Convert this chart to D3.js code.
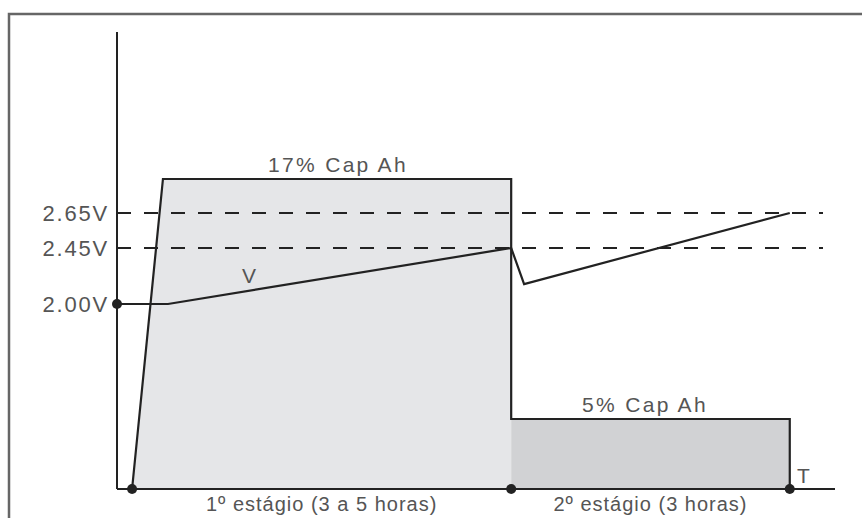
<!DOCTYPE html>
<html>
<head>
<meta charset="utf-8">
<script src="https://cdn.jsdelivr.net/npm/d3@7"></script>
<style>
  body { margin: 0; background: #fff; }
  text { font-family: "Liberation Sans", Arial, sans-serif; fill: #555; }
</style>
</head>
<body>
<svg id="chart"></svg>
<script>
// dados (esquema de carga em dois estágios)
const voltLevels = [2.00, 2.45, 2.65];
const voltLabels = ["2.00V", "2.45V", "2.65V"];

// curva de tensão: tempo (h) e tensão (V)
const voltTime = [0, 0.71, 5.49, 5.67, 9.37];
const voltValue = [2.00, 2.00, 2.45, 2.16, 2.65];

// curva de corrente: tempo (h) e % Cap Ah
const currTime = [0.21, 0.64, 5.49, 5.49, 9.37, 9.37];
const currValue = [0, 17, 17, 5, 5, 0];

const stageBounds = [0.21, 5.49, 9.37];
const stageLabels = ["1º estágio (3 a 5 horas)", "2º estágio (3 horas)"];
const currLabels = ["17% Cap Ah", "5% Cap Ah"];

const width = 862, height = 518;
const svg = d3.select("#chart").attr("width", width).attr("height", height);

// moldura
svg.append("rect")
  .attr("x", 9).attr("y", 14)
  .attr("width", 880).attr("height", 540)
  .attr("fill", "none").attr("stroke", "#666").attr("stroke-width", 2.5);

const x = d3.scaleLinear().domain([0, 10]).range([117, 835]);
// escalas esquemáticas (não lineares na figura original)
const yV = d3.scaleLinear().domain([2.00, 2.45, 2.65]).range([304, 248, 213]);
const yI = d3.scaleLinear().domain([0, 5, 17]).range([489, 419, 179]);

// áreas de corrente
const pts = currTime.map((t, i) => [t, currValue[i]]);
const area = d3.line().x(d => x(d[0])).y(d => yI(d[1]));

svg.append("path")
  .attr("d", area(pts.slice(0, 4).concat([[currTime[3], 0]])) + "Z")
  .attr("fill", "#e5e6e8");
svg.append("path")
  .attr("d", area([[currTime[3], 0]].concat(pts.slice(3))) + "Z")
  .attr("fill", "#d1d2d4");

// linhas tracejadas
svg.selectAll(".ref")
  .data(voltLevels.slice(1))
  .enter().append("line")
  .attr("x1", x(0)).attr("x2", 823)
  .attr("y1", d => yV(d)).attr("y2", d => yV(d))
  .attr("stroke", "#222").attr("stroke-width", 2)
  .attr("stroke-dasharray", "14,13");

// eixos
svg.append("line").attr("x1", x(0)).attr("x2", x(0)).attr("y1", 32).attr("y2", yI(0))
  .attr("stroke", "#222").attr("stroke-width", 2);
svg.append("line").attr("x1", x(0)).attr("x2", x(10)).attr("y1", yI(0)).attr("y2", yI(0))
  .attr("stroke", "#222").attr("stroke-width", 2);

// contorno da corrente
svg.append("path")
  .attr("d", area(pts))
  .attr("fill", "none").attr("stroke", "#222").attr("stroke-width", 2.2);

// curva de tensão
svg.append("path")
  .attr("d", d3.line().x((d, i) => x(voltTime[i])).y((d, i) => yV(voltValue[i]))(voltTime))
  .attr("fill", "none").attr("stroke", "#222").attr("stroke-width", 2.2);

// rótulos de tensão
svg.selectAll(".vlab")
  .data(voltLevels)
  .enter().append("text")
  .attr("x", 109).attr("y", d => yV(d) + 8)
  .attr("text-anchor", "end")
  .attr("font-size", 22).attr("letter-spacing", 1.8)
  .text((d, i) => voltLabels[i]);

// pontos
const dots = stageBounds.map(t => [x(t), yI(0)]).concat([[x(0), yV(2.00)]]);
svg.selectAll(".dot")
  .data(dots)
  .enter().append("circle")
  .attr("cx", d => d[0]).attr("cy", d => d[1]).attr("r", 5)
  .attr("fill", "#222");

// rótulos de corrente
svg.append("text").attr("x", 338).attr("y", 172)
  .attr("text-anchor", "middle").attr("font-size", 21).attr("letter-spacing", 2.3)
  .text(currLabels[0]);
svg.append("text").attr("x", 645).attr("y", 412)
  .attr("text-anchor", "middle").attr("font-size", 21).attr("letter-spacing", 2.3)
  .text(currLabels[1]);

svg.append("text").attr("x", 242).attr("y", 283).attr("font-size", 21).text("V");
svg.append("text").attr("x", 797).attr("y", 483).attr("font-size", 21).text("T");

// rótulos dos estágios
svg.selectAll(".stage")
  .data(stageLabels)
  .enter().append("text")
  .attr("x", (d, i) => (x(stageBounds[i]) + x(stageBounds[i + 1])) / 2)
  .attr("y", 511)
  .attr("text-anchor", "middle").attr("font-size", 20).attr("letter-spacing", 1)
  .text(d => d);
</script>
</body>
</html>
